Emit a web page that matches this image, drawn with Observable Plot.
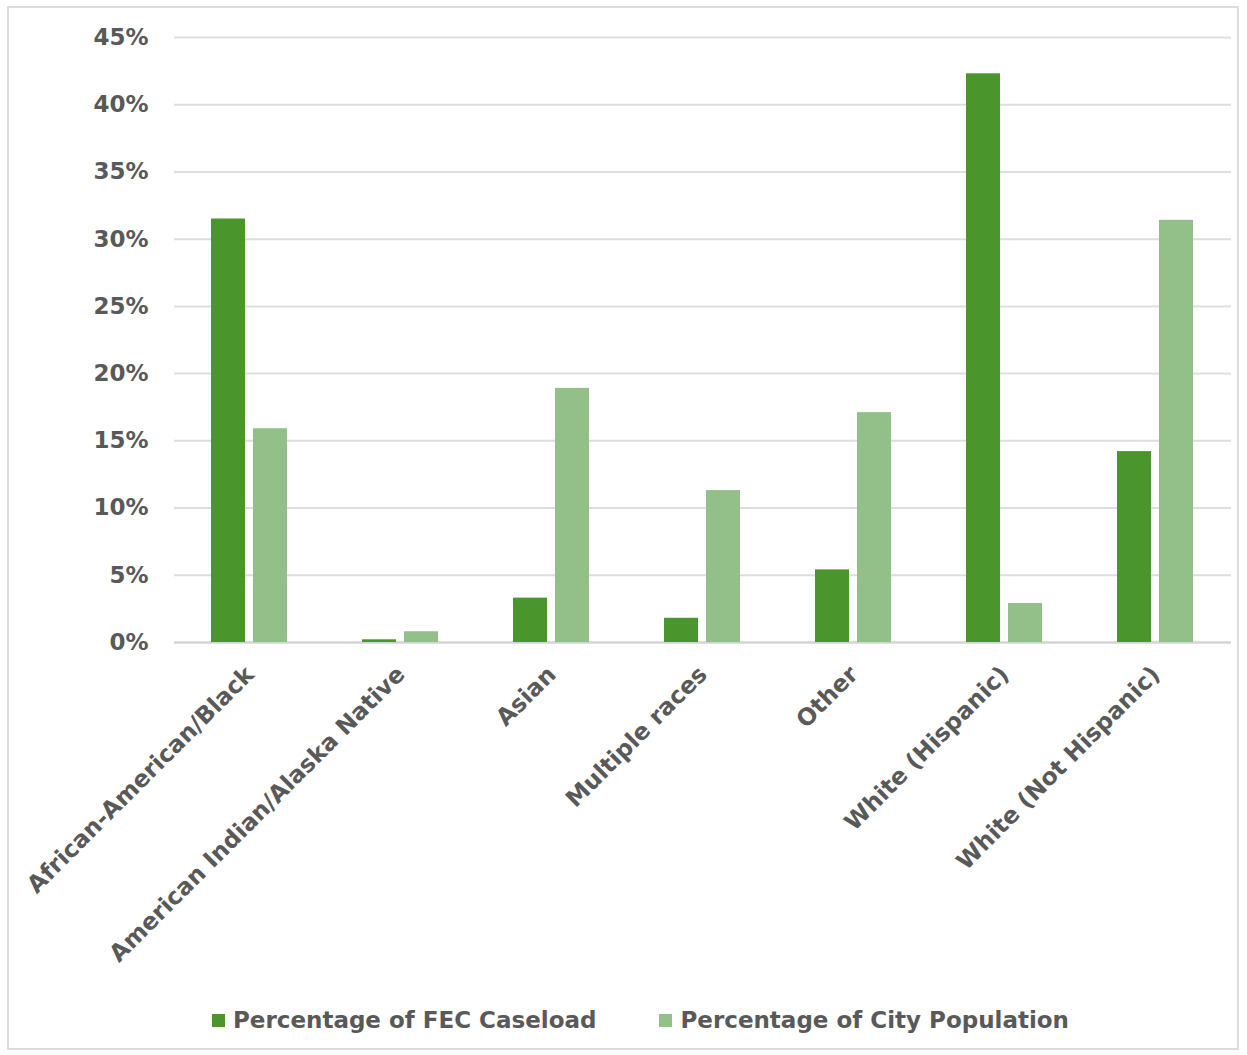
<!DOCTYPE html>
<html>
<head>
<meta charset="utf-8">
<script src="https://cdn.jsdelivr.net/npm/d3@7"></script>
<script src="https://cdn.jsdelivr.net/npm/@observablehq/plot@0.6"></script>
<style>
  html, body { margin: 0; padding: 0; background: #fff; }
  body { width: 1247px; height: 1055px; position: relative; overflow: hidden; font-family: "DejaVu Sans", sans-serif; }
  #frame { position: absolute; left: 7px; top: 6px; width: 1232px; height: 1044px; border: 2px solid #dcdcdc; box-sizing: border-box; pointer-events: none; }
  #chart { position: absolute; left: 0; top: 0; }
  #legend { position: absolute; left: 0; top: 990px; width: 1247px; height: 60px; box-sizing: border-box; padding-left: 34px; display: flex; justify-content: center; align-items: center; color: #595959; font-weight: 700; font-size: 23px; }
  .item { display: flex; align-items: center; }
  .sw { width: 13px; height: 13px; margin-right: 8px; }
</style>
</head>
<body>
<div id="chart"></div>
<div id="legend"></div>
<div id="frame"></div>
<script>
const categories = ["African-American/Black", "American Indian/Alaska Native", "Asian", "Multiple races", "Other", "White (Hispanic)", "White (Not Hispanic)"];
const series = ["Percentage of FEC Caseload", "Percentage of City Population"];
const fecCaseload = [31.5, 0.2, 3.3, 1.8, 5.4, 42.3, 14.2];
const cityPopulation = [15.9, 0.8, 18.9, 11.3, 17.1, 2.9, 31.4];
const yTicks = [0, 5, 10, 15, 20, 25, 30, 35, 40, 45];
const colors = ["#4a962c", "#93c088"];

const data = [];
categories.forEach((c, i) => {
  data.push({category: c, series: series[0], value: fecCaseload[i]});
  data.push({category: c, series: series[1], value: cityPopulation[i]});
});

const chart = Plot.plot({
  width: 1247,
  height: 990,
  marginLeft: 173,
  marginRight: 15,
  marginTop: 37,
  marginBottom: 348,
  style: {fontFamily: "'DejaVu Sans', sans-serif", color: "#595959", background: "transparent"},
  fx: {domain: categories, padding: 0, label: null},
  x: {domain: series, paddingInner: 0.19, paddingOuter: 0.86, axis: null},
  y: {domain: [0, 45], label: null},
  color: {domain: series, range: colors},
  marks: [
    Plot.gridY(yTicks, {stroke: "#dedede", strokeOpacity: 1, strokeWidth: 2}),
    Plot.ruleY([0], {stroke: "#d2d2d2", strokeWidth: 2}),
    Plot.barY(data, {fx: "category", x: "series", y: "value", fill: "series"}),
    Plot.axisY(yTicks, {tickSize: 0, tickPadding: 26, tickFormat: d => d + "%", fontSize: 23, fontWeight: 700, label: null}),
    Plot.axisFx({anchor: "bottom", tickRotate: -45, tickSize: 0, tickPadding: 28, fontSize: 23.5, fontWeight: 700, label: null, dx: 0})
  ]
});
document.getElementById("chart").appendChild(chart);

const legend = document.getElementById("legend");
series.forEach((s, i) => {
  const item = document.createElement("div");
  item.className = "item";
  if (i > 0) item.style.marginLeft = "63px";
  const sw = document.createElement("div");
  sw.className = "sw";
  sw.style.background = colors[i];
  const t = document.createElement("span");
  t.textContent = s;
  item.appendChild(sw);
  item.appendChild(t);
  legend.appendChild(item);
});
</script>
</body>
</html>
